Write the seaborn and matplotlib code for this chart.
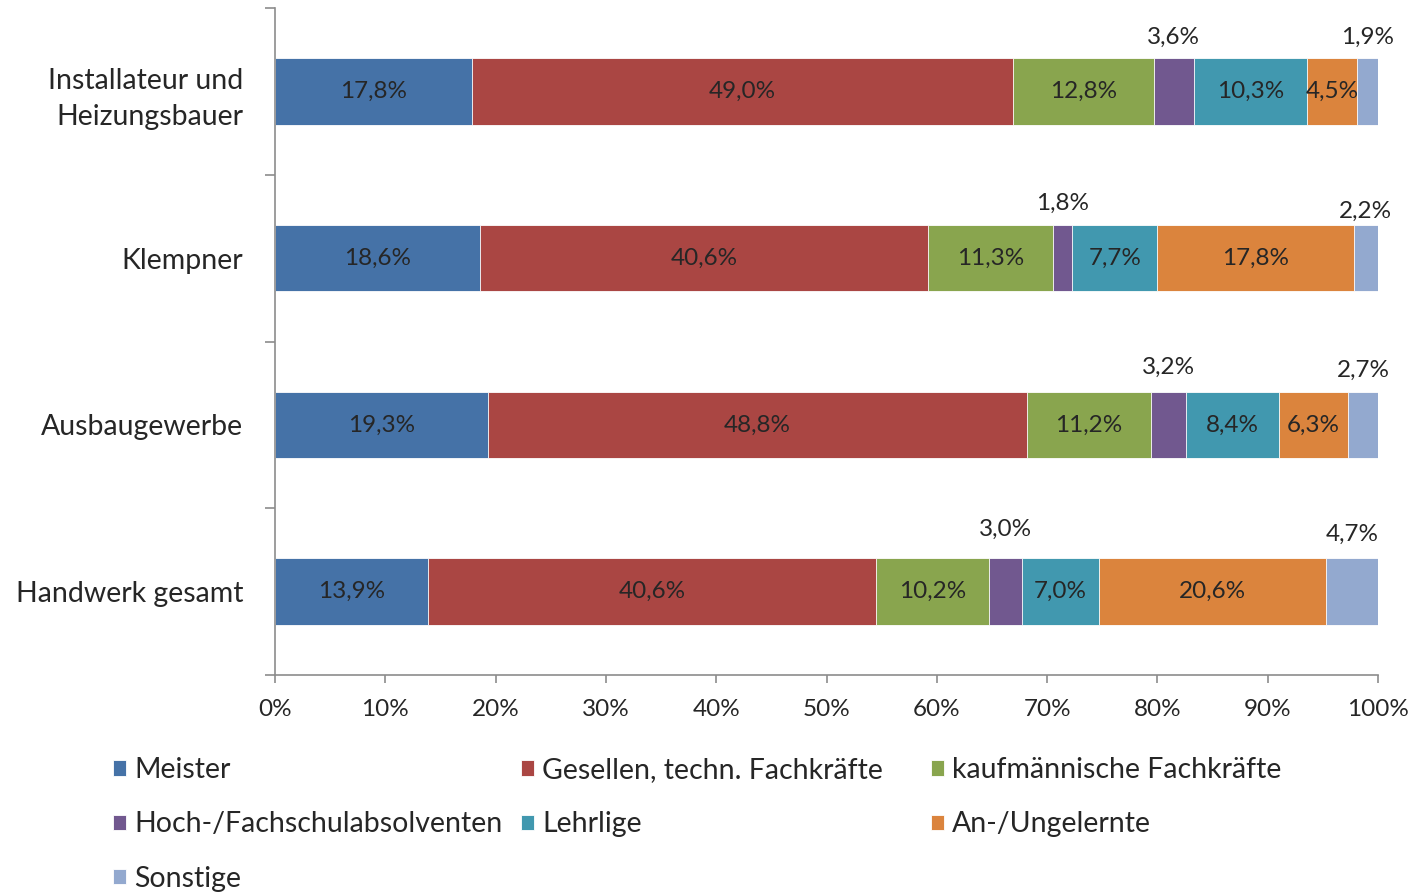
import numpy as np
import pandas as pd
import matplotlib
matplotlib.use('Agg')
import matplotlib.pyplot as plt
import seaborn as sns

# data (Anteile in %)
branchen = ['Installateur und\nHeizungsbauer', 'Klempner', 'Ausbaugewerbe', 'Handwerk gesamt']
gruppen = ['Meister', 'Gesellen, techn. Fachkräfte', 'kaufmännische Fachkräfte',
           'Hoch-/Fachschulabsolventen', 'Lehrlige', 'An-/Ungelernte', 'Sonstige']
meister = [17.8, 18.6, 19.3, 13.9]
gesellen = [49.0, 40.6, 48.8, 40.6]
kaufm = [12.8, 11.3, 11.2, 10.2]
hochschule = [3.6, 1.8, 3.2, 3.0]
lehrlinge = [10.3, 7.7, 8.4, 7.0]
ungelernte = [4.5, 17.8, 6.3, 20.6]
sonstige = [1.9, 2.2, 2.7, 4.7]

farben = ['#4572A7', '#AA4643', '#89A54E', '#71588F', '#4198AF', '#DB843D', '#93A9CF']

werte = np.array([meister, gesellen, kaufm, hochschule, lehrlinge, ungelernte, sonstige])
anteil = werte / werte.sum(axis=0) * 100     # 100%-gestapelt wie in Excel
kumuliert = anteil.cumsum(axis=0)

sns.set_theme(style='white')
plt.rcParams['font.family'] = ['Lato', 'DejaVu Sans']

fig = plt.figure(figsize=(14.12, 8.92), dpi=100)
ax = fig.add_axes([0.1948, 0.2433, 0.7811, 0.7477])

# gestapelte Balken: von hinten nach vorne die kumulierten Summen zeichnen
for i in range(len(gruppen) - 1, -1, -1):
    df = pd.DataFrame({'branche': branchen, 'wert': kumuliert[i]})
    sns.barplot(data=df, x='wert', y='branche', color=farben[i], width=0.4,
                saturation=1, edgecolor='white', linewidth=0.6, ax=ax, label=gruppen[i])

# Beschriftungen
oben = {3: [21, 21, 24, 29], 6: [21, 13, 21, 24]}   # Abstand über dem Balken in px
for i in range(len(gruppen)):
    for j in range(len(branchen)):
        mitte = kumuliert[i, j] - anteil[i, j] / 2
        text = f'{werte[i, j]:.1f}%'.replace('.', ',')
        if i in oben:
            ax.annotate(text, xy=(mitte, j - 0.2), xytext=(0, oben[i][j] * 0.72),
                        textcoords='offset points', ha='center', va='center', fontsize=17.5)
        else:
            ax.text(mitte, j, text, ha='center', va='center', fontsize=17.5)

ax.set_xlim(0, 100)
ax.set_ylim(3.5, -0.5)
ax.set_xticks(np.arange(0, 101, 10))
ax.set_xticklabels([f'{v}%' for v in range(0, 101, 10)], fontsize=17.5)
ax.set_yticks(range(len(branchen)))
ax.set_yticklabels(branchen, fontsize=20.5, linespacing=1.5)
ax.set_yticks(np.arange(-0.5, 4, 1), minor=True)
ax.set_xlabel('')
ax.set_ylabel('')

for s in ['top', 'right']:
    ax.spines[s].set_visible(False)
for s in ['left', 'bottom']:
    ax.spines[s].set_color('#8c8c8c')
    ax.spines[s].set_linewidth(1.2)
ax.tick_params(axis='y', which='major', length=0, pad=23)
ax.tick_params(axis='y', which='minor', left=True, length=7, color='#8c8c8c', width=1.2)
ax.tick_params(axis='x', bottom=True, length=6, color='#8c8c8c', width=1.2, pad=11)

# Legende zeilenweise, drei gleich breite Spalten wie im Original
handles, labels = ax.get_legend_handles_labels()
reihe = dict(zip(labels, handles))
if ax.get_legend():
    ax.get_legend().remove()
spalten = [[0, 3, 6], [1, 4], [2, 5]]
spalten_x = [113, 521, 931]
for sp, x0 in zip(spalten, spalten_x):
    fig.legend([reihe[gruppen[k]] for k in sp], [gruppen[k] for k in sp],
               loc='upper left', bbox_to_anchor=(x0 / 1412, 1 - 757 / 892),
               frameon=False, fontsize=20.5, handlelength=0.45, handleheight=0.45,
               handletextpad=0.3, labelspacing=1.0, borderaxespad=0, borderpad=0)

fig.savefig('out.png', dpi=100)
